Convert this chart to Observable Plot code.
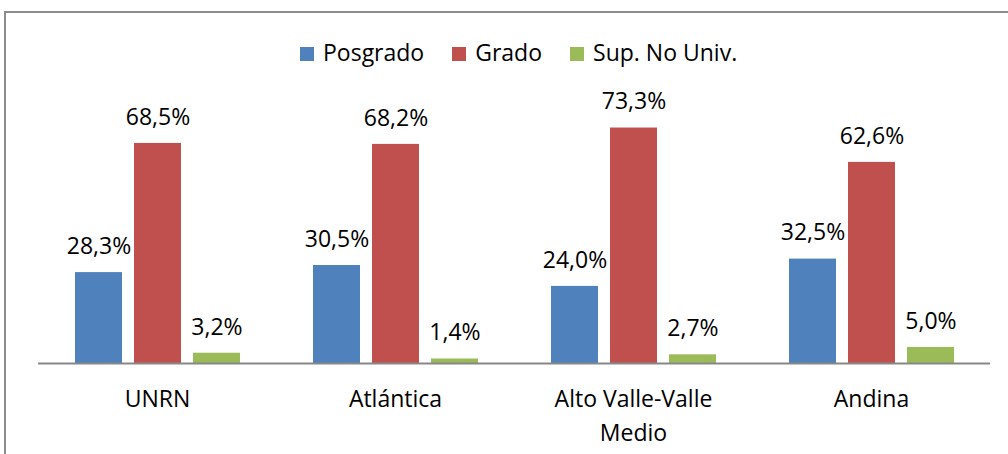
<!DOCTYPE html>
<html><head><meta charset="utf-8">
<script src="https://cdn.jsdelivr.net/npm/d3@7"></script>
<script src="https://cdn.jsdelivr.net/npm/@observablehq/plot@0.6"></script>
<style>
body{margin:0;background:#fff;font-family:"Open Sans",sans-serif;}
#wrap{position:relative;width:1008px;height:454px;overflow:hidden;}
#chart{position:absolute;left:0;top:0;}
#frame{position:absolute;left:4px;top:11px;width:1100px;height:500px;border-top:2px solid #8c8c8c;border-left:2px solid #8c8c8c;}
#legend{position:absolute;left:300px;top:40.6px;font-size:23px;line-height:23px;white-space:nowrap;color:#000}
.sw{display:inline-block;width:14px;height:14px;margin-right:9px}
.item{display:inline-block;margin-right:28px}
</style></head><body>
<div id="wrap"><div id="chart"></div><div id="frame"></div><div id="legend"></div></div>
<script>
const categories = ["UNRN", "Atlántica", "Alto Valle-Valle Medio", "Andina"];
const categoryLabels = ["UNRN", "Atlántica", "Alto Valle-Valle\nMedio", "Andina"];
const series = ["Posgrado", "Grado", "Sup. No Univ."];
const posgrado = [28.3, 30.5, 24.0, 32.5];
const grado = [68.5, 68.2, 73.3, 62.6];
const supNoUniv = [3.2, 1.4, 2.7, 5.0];
const colors = ["#4F81BD", "#C0504D", "#9BBB59"];

const seriesValues = [posgrado, grado, supNoUniv];
const data = [];
categories.forEach((c, i) => {
  seriesValues.forEach((arr, j) => data.push({cat: c, series: series[j], value: arr[i]}));
});
const fmt = v => v.toFixed(1).replace(".", ",") + "%";

const plot = Plot.plot({
  width: 1008, height: 454,
  marginLeft: 38, marginRight: 18, marginTop: 106, marginBottom: 91,
  style: {fontFamily: "Open Sans", fontSize: "23px", background: "transparent", overflow: "visible"},
  fx: {domain: categories, padding: 0, axis: null},
  x: {domain: series, paddingInner: 12 / 59, paddingOuter: 0.6186, axis: null},
  y: {domain: [0, 80], axis: null},
  color: {domain: series, range: colors},
  marks: [
    Plot.barY(data, {fx: "cat", x: "series", y: "value", fill: "series"}),
    Plot.ruleY([0], {stroke: "#878787", strokeWidth: 2}),
    Plot.text(data, {fx: "cat", x: "series", y: "value", text: d => fmt(d.value), dy: -26, fill: "#000", fontSize: 23}),
    Plot.text(categories, {fx: d => d, text: (d, i) => categoryLabels[i], frameAnchor: "bottom", lineAnchor: "top", dy: 19, lineHeight: 1.48, fontSize: 23, fill: "#000"})
  ]
});
document.getElementById("chart").appendChild(plot);

const legend = document.getElementById("legend");
series.forEach((s, i) => {
  const item = document.createElement("span");
  item.className = "item";
  const sw = document.createElement("span");
  sw.className = "sw";
  sw.style.background = colors[i];
  item.appendChild(sw);
  item.appendChild(document.createTextNode(s));
  legend.appendChild(item);
});
</script>
</body></html>
